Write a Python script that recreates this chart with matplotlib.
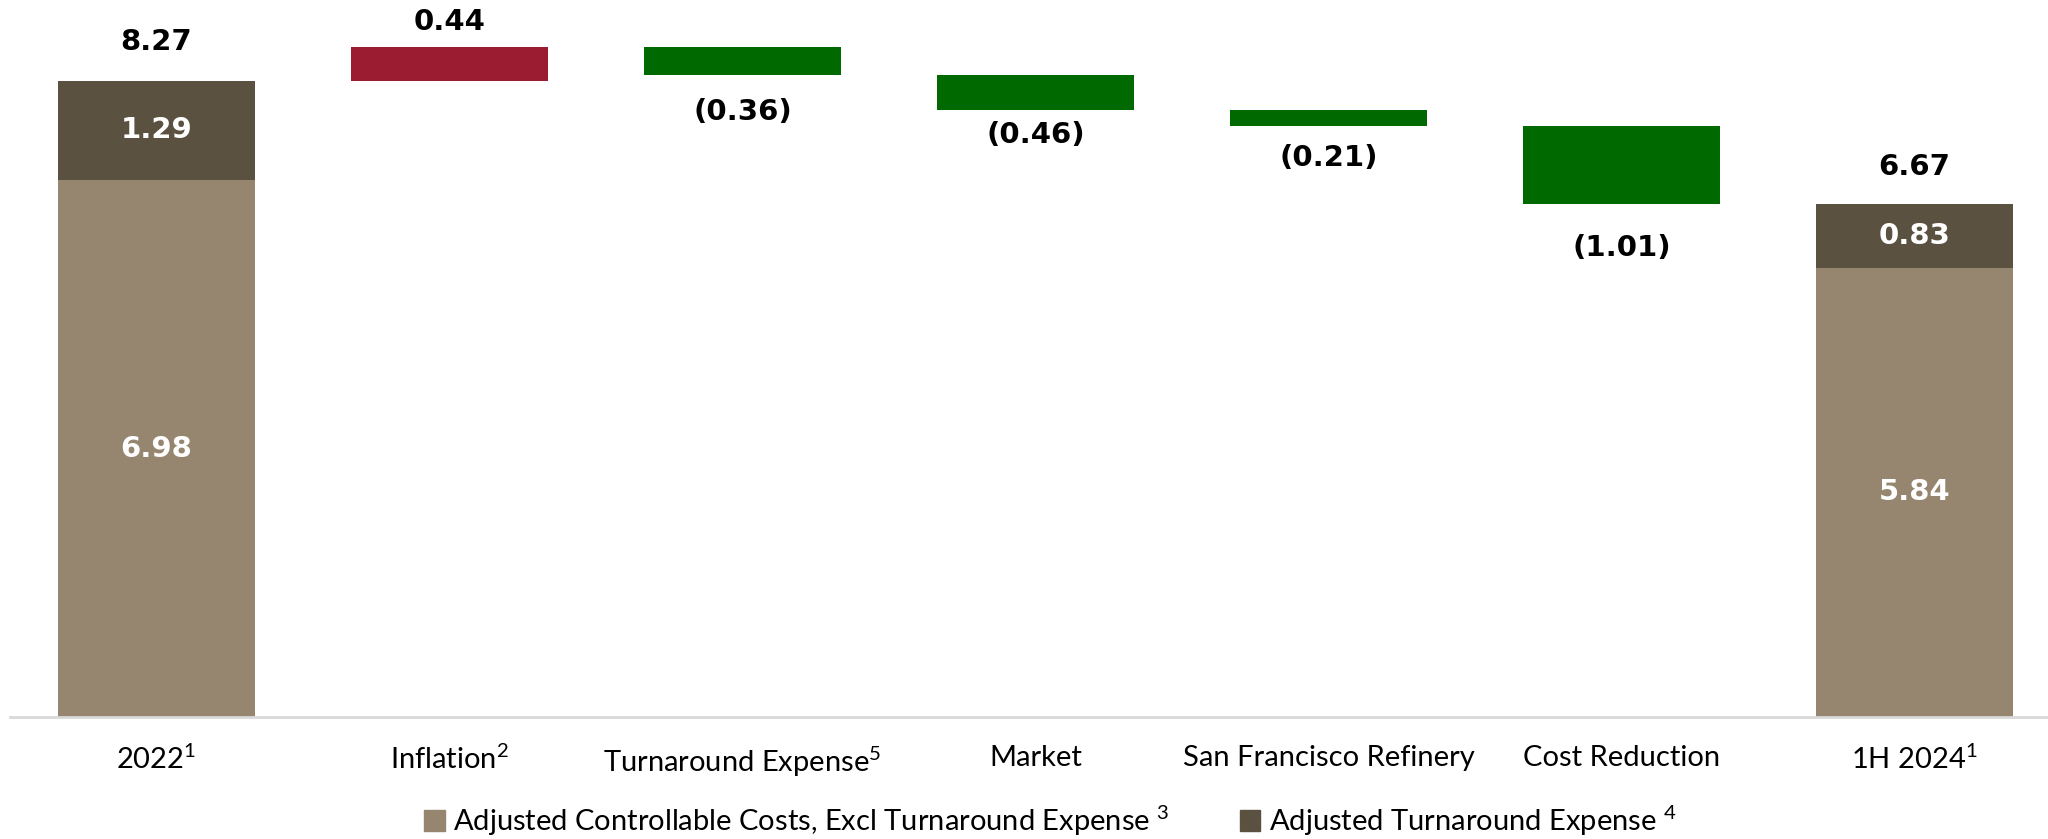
import numpy as np
import matplotlib.pyplot as plt
from matplotlib.patches import Patch

# datos del grafico (cascada de costos)
categorias = ['2022', 'Inflation', 'Turnaround Expense', 'Market',
              'San Francisco Refinery', 'Cost Reduction', '1H 2024']
notas = ['1', '2', '5', '', '', '', '1']
inicio_base = 6.98
inicio_turn = 1.29
cambios = [0.44, -0.36, -0.46, -0.21, -1.01]
fin_base = 5.84
fin_turn = 0.83
leyenda = ['Adjusted Controllable Costs, Excl Turnaround Expense', 'Adjusted Turnaround Expense']
notas_leyenda = ['3', '4']

c_base = '#968670'
c_turn = '#5B5140'
c_sube = '#9B1B30'
c_baja = '#006A00'

narrow = ['Lato', 'DejaVu Sans']
bold = ['DejaVu Sans']
plt.rcParams['font.family'] = narrow
plt.rcParams['mathtext.fontset'] = 'custom'
plt.rcParams['mathtext.rm'] = 'Lato'
plt.rcParams['mathtext.default'] = 'regular'

fig = plt.figure(figsize=(20.48, 8.39), dpi=100)
ax = fig.add_axes([10 / 2048, 122 / 839, 2051 / 2048, 717 / 839])

x = np.arange(len(categorias))
w = 0.67

# barras totales
ax.bar(x[0], inicio_base, w, color=c_base)
ax.bar(x[0], inicio_turn, w, bottom=inicio_base, color=c_turn)
ax.bar(x[-1], fin_base, w, color=c_base)
ax.bar(x[-1], fin_turn, w, bottom=fin_base, color=c_turn)

total_ini = inicio_base + inicio_turn
total_fin = fin_base + fin_turn
kw = dict(ha='center', va='center', fontsize=21, fontweight='bold', family=bold)
ax.text(x[0], total_ini + 0.5, '%.2f' % total_ini, **kw)
ax.text(x[-1], total_fin + 0.48, '%.2f' % total_fin, **kw)
ax.text(x[0], inicio_base + inicio_turn / 2, '%.2f' % inicio_turn, color='white', **kw)
ax.text(x[0], inicio_base / 2, '%.2f' % inicio_base, color='white', **kw)
ax.text(x[-1], fin_base + fin_turn / 2, '%.2f' % fin_turn, color='white', **kw)
ax.text(x[-1], fin_base / 2, '%.2f' % fin_base, color='white', **kw)

# barras flotantes
desp = [0.33, -0.49, -0.32, -0.42, -0.57]
nivel = total_ini
for i, c in enumerate(cambios):
    xi = x[i + 1]
    if c > 0:
        ax.bar(xi, c, w, bottom=nivel, color=c_sube)
        ax.text(xi, nivel + c + desp[i], '%.2f' % c, **kw)
    else:
        ax.bar(xi, c, w, bottom=nivel, color=c_baja)
        ax.text(xi, nivel + c + desp[i], '(%.2f)' % abs(c), **kw)
    nivel += c

ax.set_xlim(-0.5, 6.5)
ax.set_ylim(0, 9.32)
ax.set_yticks([])
for s in ['top', 'right', 'left']:
    ax.spines[s].set_visible(False)
ax.spines['bottom'].set_color('#D9D9D9')
ax.spines['bottom'].set_linewidth(2)

etiquetas = [c + ('$^{%s}$' % n if n else '') for c, n in zip(categorias, notas)]
ax.set_xticks(x)
ax.set_xticklabels(etiquetas, fontsize=21)
ax.tick_params(axis='x', length=0, pad=20)

handles = [Patch(color=c_base), Patch(color=c_turn)]
textos = [t + ' $^{%s}$' % n for t, n in zip(leyenda, notas_leyenda)]
fig.legend(handles, textos, loc='center', bbox_to_anchor=(0.513, 0.022), ncol=2,
           frameon=False, fontsize=21, handlelength=0.7, handleheight=0.7,
           handletextpad=0.3, columnspacing=2.4)

plt.savefig('out.png', dpi=100)
